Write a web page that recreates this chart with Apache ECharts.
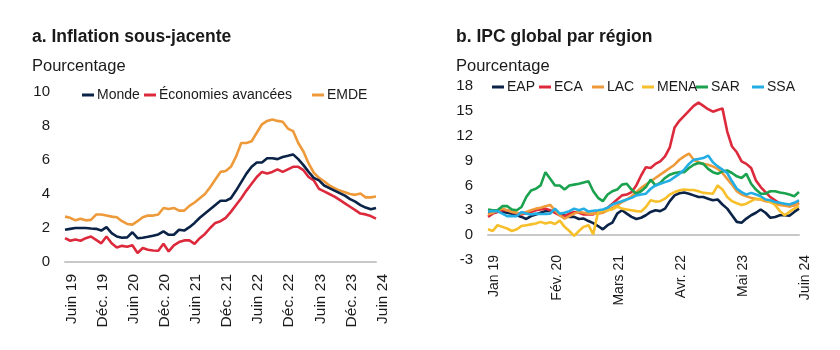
<!DOCTYPE html>
<html>
<head>
<meta charset="utf-8">
<script src="https://cdn.jsdelivr.net/npm/echarts@6/dist/echarts.min.js"></script>
<style>
html,body{margin:0;padding:0;background:#fff;}
#c{width:840px;height:350px;}
</style>
</head>
<body>
<div id="c"></div>
<script>
// ---------- Data ----------
var monthsFR = ["Jan","Fév.","Mars","Avr.","Mai","Juin","Juil.","Août","Sept.","Oct.","Nov.","Déc."];
function monthCats(startYear, startMonth, count){
  var out = [];
  for (var k = 0; k < count; k++){
    var m = (startMonth + k) % 12;
    var y = startYear + Math.floor((startMonth + k) / 12);
    out.push(monthsFR[m] + " " + String(y).slice(2));
  }
  return out;
}
// Panel a: June 2019 - June 2024
var catsA = monthCats(2019, 5, 61);
// Panel b: January 2019 - June 2024
var catsB = monthCats(2019, 0, 66);

var tickLabelsA = ["Juin 19","Déc. 19","Juin 20","Déc. 20","Juin 21","Déc. 21","Juin 22","Déc. 22","Juin 23","Déc. 23","Juin 24"];
var tickLabelsB = ["Jan 19","Fév. 20","Mars 21","Avr. 22","Mai 23","Juin 24"];

var monde = [1.9,1.95,2.0,2.0,2.0,1.97,1.95,1.85,2.05,1.7,1.5,
  1.43,1.45,1.75,1.4,1.43,1.48,1.55,1.62,1.8,1.6,
  1.6,1.9,1.85,2.05,2.3,2.6,2.85,3.1,3.35,3.6,
  3.6,3.75,4.2,4.7,5.2,5.6,5.85,5.85,6.1,6.1,
  6.05,6.18,6.25,6.33,6.05,5.7,5.3,4.95,4.8,4.5,
  4.35,4.2,4.05,3.9,3.7,3.55,3.35,3.2,3.1,3.18];
var avancees = [1.4,1.25,1.33,1.25,1.4,1.5,1.3,1.1,1.5,1.1,0.85,
  0.95,0.9,0.98,0.53,0.82,0.72,0.68,0.66,1.07,0.62,
  0.98,1.17,1.27,1.27,1.07,1.4,1.65,2.0,2.3,2.4,
  2.6,2.95,3.35,3.75,4.2,4.6,5.0,5.3,5.2,5.3,
  5.45,5.3,5.45,5.6,5.6,5.4,5.0,4.8,4.3,4.15,
  4.0,3.85,3.65,3.45,3.25,3.05,2.85,2.8,2.7,2.55];
var emde = [2.67,2.6,2.45,2.54,2.45,2.48,2.79,2.79,2.73,2.67,2.63,
  2.4,2.24,2.2,2.4,2.63,2.73,2.73,2.79,3.18,3.12,
  3.18,3.02,3.02,3.3,3.5,3.75,4.0,4.4,4.85,5.3,
  5.35,5.6,6.2,7.0,7.0,7.1,7.6,8.1,8.3,8.38,
  8.3,8.25,7.85,7.7,7.0,6.5,5.8,5.25,4.95,4.75,
  4.5,4.35,4.2,4.1,4.0,3.95,4.03,3.8,3.8,3.85];

var eap = [2.8,2.8,2.85,2.8,2.7,2.6,2.4,2.2,1.95,2.3,2.5,
  2.7,2.9,2.95,2.85,2.6,2.35,2.2,2.2,1.95,2.0,
  1.7,1.45,1.1,0.7,1.2,1.5,2.6,3.0,2.6,2.2,
  1.95,2.1,2.4,2.8,3.0,2.9,3.2,4.1,4.8,5.05,
  5.15,5.0,4.8,4.6,4.6,4.4,4.2,4.3,3.7,3.2,
  2.4,1.6,1.5,2.0,2.4,2.7,3.1,2.7,2.1,2.2,
  2.4,2.4,2.35,2.8,3.2];
var eca = [2.2,2.6,2.8,3.0,3.0,2.8,2.6,2.5,2.7,2.8,3.0,
  3.1,3.2,3.0,2.7,2.4,2.3,2.6,2.8,2.7,2.5,
  2.5,2.5,2.8,3.0,3.3,3.8,4.3,4.8,4.9,5.2,
  6.0,7.2,8.2,8.1,8.6,8.9,9.5,10.6,13.0,13.8,
  14.4,15.0,15.6,16.0,15.6,15.2,14.9,15.1,15.3,12.5,
  10.7,10.0,8.9,8.6,8.1,6.6,5.8,5.2,4.6,4.2,
  3.8,3.7,3.5,3.6,3.9];
var lac = [2.5,2.7,3.0,3.2,3.0,2.8,2.7,2.6,2.8,3.0,3.2,
  3.3,3.5,3.65,3.0,2.4,2.0,2.3,2.6,2.8,2.7,
  2.6,2.6,2.6,2.7,3.0,3.3,3.6,4.0,4.3,4.7,
  5.2,5.7,6.1,6.5,6.9,7.3,7.7,8.1,8.5,9.1,
  9.5,9.85,9.1,8.8,8.6,8.5,8.3,8.0,7.5,6.8,
  6.1,5.3,4.9,4.7,4.5,4.35,4.3,4.1,4.0,3.8,
  3.65,3.55,3.45,3.6,3.85];
var mena = [0.7,0.5,1.2,1.0,0.8,0.5,0.7,1.1,1.2,1.3,1.4,
  1.6,1.4,1.55,1.35,1.75,1.0,0.5,-0.1,0.5,1.0,
  1.2,0.1,2.8,2.95,3.0,3.1,3.45,3.2,3.1,3.0,
  2.9,2.85,3.4,4.2,4.05,4.1,4.4,4.9,5.2,5.4,
  5.5,5.45,5.45,5.3,5.1,5.05,5.0,6.0,5.5,4.6,
  4.1,3.85,3.65,3.8,4.1,4.4,4.35,4.3,4.0,3.65,
  2.9,2.4,2.8,3.2,3.5];
var sar = [3.1,3.0,3.0,3.5,3.5,3.1,3.0,3.4,4.6,5.4,5.6,
  6.0,7.6,6.8,6.0,6.0,5.5,6.0,6.1,6.2,6.35,
  6.5,5.3,4.5,4.1,4.9,5.3,5.5,6.1,6.2,5.5,
  5.0,5.3,5.8,6.7,6.0,6.3,6.9,7.3,7.5,7.6,
  7.6,8.1,8.5,8.7,8.6,8.0,7.6,7.4,7.7,7.8,
  7.5,7.1,6.9,7.4,6.2,5.5,5.0,5.0,5.3,5.3,
  5.15,5.05,4.9,4.7,5.2];
var ssa = [2.85,2.9,2.9,2.6,2.3,2.3,2.3,2.8,2.6,2.5,2.6,
  2.55,2.55,2.6,3.2,2.6,2.7,2.9,3.2,3.0,3.2,
  2.85,2.95,3.0,3.1,3.3,3.7,3.9,4.1,4.3,4.5,
  4.8,4.9,5.0,5.6,6.0,6.2,6.4,6.6,7.0,7.4,
  7.9,8.6,9.1,9.2,9.3,9.6,8.8,8.3,7.9,7.5,
  6.5,5.6,5.2,4.9,5.1,4.9,4.7,4.3,4.2,4.0,
  3.9,3.8,3.7,3.9,4.2];

// ---------- Chart ----------
var FONT = "'Liberation Sans', Arial, sans-serif";
var TXT = '#1a1a1a';
var COL = {navy:'#0b2347', red:'#dc2a3c', orange:'#ee9a3a', yellow:'#f7bf2a', green:'#1ba24e', cyan:'#22aee4'};

var chart = echarts.init(document.getElementById('c'), null, {renderer:'canvas'});

function line(name, data, color, idx){
  return {name:name, type:'line', xAxisIndex:idx, yAxisIndex:idx, data:data,
    showSymbol:false, symbol:'none', smooth:false,
    lineStyle:{color:color, width:2.6}, itemStyle:{color:color}, z:3};
}
function leg(name, left, top){
  return {data:[name], left:left, top:top, padding:0, itemWidth:12, itemHeight:3, icon:'rect',
    itemGap:0, textStyle:{fontSize:14, color:TXT, fontFamily:FONT, padding:[0,0,0,-2]}, selectedMode:false};
}
function xAx(idx, cats, interval, margin, ticks, fs){
  return {type:'category', gridIndex:idx, data:cats, boundaryGap:false,
    axisLine:{show:true, onZero:true, lineStyle:{color:'#c8c8c8', width:2}},
    axisTick:{show:false},
    axisLabel:{interval:interval, rotate:90, margin:margin, fontSize:fs, color:TXT, fontFamily:FONT,
      verticalAlign:'top', lineHeight:13,
      formatter:function(v){ return ticks.indexOf(v) >= 0 ? v : ''; }},
    splitLine:{show:false}};
}
function yAx(idx, min, max, interval){
  return {type:'value', gridIndex:idx, min:min, max:max, interval:interval,
    axisLine:{show:false}, axisTick:{show:false}, splitLine:{show:false},
    axisLabel:{fontSize:15, color:TXT, fontFamily:FONT, margin:15}};
}

var option = {
  animation:false,
  backgroundColor:'#fff',
  textStyle:{fontFamily:FONT},
  title:[
    {text:'a. Inflation sous-jacente', left:32, top:28, padding:0, textStyle:{fontSize:17.5, fontWeight:'bold', color:TXT, fontFamily:FONT}},
    {text:'Pourcentage', left:32, top:58, padding:0, textStyle:{fontSize:16.5, fontWeight:'normal', color:TXT, fontFamily:FONT}},
    {text:'b. IPC global par région', left:456, top:28, padding:0, textStyle:{fontSize:17.5, fontWeight:'bold', color:TXT, fontFamily:FONT}},
    {text:'Pourcentage', left:456, top:58, padding:0, textStyle:{fontSize:16.5, fontWeight:'normal', color:TXT, fontFamily:FONT}}
  ],
  legend:[
    leg('Monde', 82, 88),
    leg('Économies avancées', 144, 88),
    leg('EMDE', 312, 88),
    leg('EAP', 492, 80),
    leg('ECA', 539, 80),
    leg('LAC', 592, 80),
    leg('MENA', 642, 80),
    leg('SAR', 696, 80),
    leg('SSA', 752, 80)
  ],
  grid:[
    {left:65, top:92, width:311, height:170},
    {left:488, top:86, width:311, height:174}
  ],
  xAxis:[ xAx(0, catsA, 5, 12, tickLabelsA, 15.5), xAx(1, catsB, 12, -5, tickLabelsB, 14) ],
  yAxis:[ yAx(0, 0, 10, 2), yAx(1, -3, 18, 3) ],
  series:[
    line('EMDE', emde, COL.orange, 0),
    line('Économies avancées', avancees, COL.red, 0),
    line('Monde', monde, COL.navy, 0),
    line('EAP', eap, COL.navy, 1),
    line('ECA', eca, COL.red, 1),
    line('LAC', lac, COL.orange, 1),
    line('MENA', mena, COL.yellow, 1),
    line('SAR', sar, COL.green, 1),
    line('SSA', ssa, COL.cyan, 1)
  ]
};
chart.setOption(option);
</script>
</body>
</html>
